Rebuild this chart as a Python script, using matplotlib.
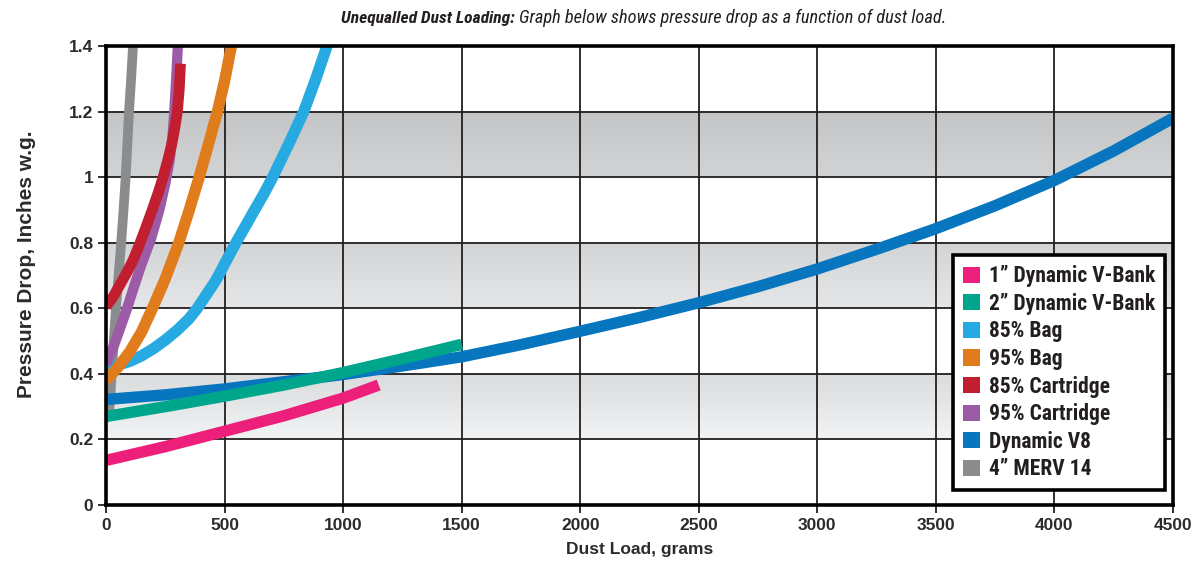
import matplotlib
matplotlib.use("Agg")
import matplotlib.pyplot as plt
import numpy as np
from matplotlib import font_manager
from matplotlib.colors import to_rgb
from matplotlib.patches import Patch

# ---- data (dust load in grams, pressure drop in in. w.g.)
vbank1_x = [0, 250, 500, 750, 1000, 1150]
vbank1_y = [0.136, 0.178, 0.225, 0.272, 0.326, 0.366]

vbank2_x = [0, 250, 500, 750, 1000, 1250, 1500]
vbank2_y = [0.270, 0.300, 0.332, 0.366, 0.404, 0.446, 0.490]

bag85_x = [0, 50, 100, 150, 200, 250, 300, 350, 383, 420, 465, 505, 548, 590,
           625, 665, 703, 770, 834, 885, 932, 950]
bag85_y = [0.420, 0.427, 0.438, 0.455, 0.477, 0.503, 0.533, 0.568, 0.598, 0.638,
           0.687, 0.742, 0.800, 0.853, 0.898, 0.948, 1.000, 1.100, 1.200, 1.300,
           1.400, 1.440]

bag95_x = [0, 50, 100, 150, 196, 250, 307, 350, 393, 432, 470, 500, 529, 540]
bag95_y = [0.380, 0.420, 0.467, 0.528, 0.600, 0.690, 0.800, 0.897, 1.000, 1.100,
           1.200, 1.293, 1.400, 1.440]

cart85_x = [0, 30, 59, 90, 115, 144, 170, 195, 220, 241, 260, 277, 290, 301, 309, 314]
cart85_y = [0.605, 0.635, 0.672, 0.712, 0.748, 0.800, 0.850, 0.900, 0.952, 1.000,
            1.050, 1.100, 1.150, 1.200, 1.270, 1.346]

cart95_x = [0, 30, 60, 89, 120, 150, 189, 225, 250, 268, 280, 288, 296, 303, 306]
cart95_y = [0.430, 0.480, 0.540, 0.600, 0.670, 0.735, 0.810, 0.900, 0.980, 1.050,
            1.120, 1.200, 1.300, 1.400, 1.450]

v8_x = [0, 250, 500, 750, 1000, 1250, 1500, 1750, 2000, 2250, 2500, 2750,
        3000, 3250, 3500, 3750, 4000, 4250, 4500]
v8_y = [0.322, 0.336, 0.354, 0.376, 0.398, 0.424, 0.452, 0.489, 0.530, 0.572,
        0.617, 0.666, 0.720, 0.780, 0.843, 0.913, 0.990, 1.080, 1.180]

merv14_x = [12, 18, 24, 33, 42, 53, 64, 74, 83, 90, 97, 106, 114, 118]
merv14_y = [0.27, 0.33, 0.40, 0.50, 0.60, 0.70, 0.80, 0.90, 1.00, 1.10, 1.20,
            1.30, 1.40, 1.45]

legend_labels = ["1\u201d Dynamic V-Bank", "2\u201d Dynamic V-Bank", "85% Bag", "95% Bag",
                 "85% Cartridge", "95% Cartridge", "Dynamic V8", "4\u201d MERV 14"]
colors = ["#ec1f7a", "#00a68c", "#27aae1", "#e17c1d",
          "#c11f30", "#9c5ba6", "#0776bf", "#8b8c8e"]

x_ticks = [0, 500, 1000, 1500, 2000, 2500, 3000, 3500, 4000, 4500]
y_ticks = [0, 0.2, 0.4, 0.6, 0.8, 1.0, 1.2, 1.4]
y_tick_labels = ["0", "0.2", "0.4", "0.6", "0.8", "1", "1.2", "1.4"]

# shaded bands: (low, high, top colour, bottom colour)
bands = [
    (0.2, 0.4, "#dadbdd", "#f2f3f4"),
    (0.6, 0.8, "#d3d4d6", "#e5e6e8"),
    (1.0, 1.2, "#c4c5c7", "#d2d3d5"),
]


def _weight(entry):
    w = entry.weight
    if isinstance(w, str):
        w = font_manager.weight_dict.get(w, 400)
    return w


def pick_condensed(candidates):
    for name in candidates:
        entries = [f for f in font_manager.fontManager.ttflist if f.name == name]
        has_bold = any(_weight(f) >= 600 and f.style == "normal" for f in entries)
        has_italic = any(f.style == "italic" for f in entries)
        if has_bold and has_italic:
            return name
    return "Liberation Sans"


narrow = [pick_condensed(["Roboto Condensed", "Barlow Semi Condensed",
                          "Fira Sans Condensed", "Barlow Condensed",
                          "Encode Sans Condensed", "Asap Condensed",
                          "Archivo Narrow"]), "DejaVu Sans"]
sans = ["Liberation Sans", "DejaVu Sans"]
ink = "#231f20"

fig = plt.figure(figsize=(11.92, 5.64), dpi=100)
ax = fig.add_axes([106 / 1192, 59 / 564, 1067 / 1192, 459 / 564])

for low, high, top, bottom in bands:
    c_top, c_bot = np.array(to_rgb(top)), np.array(to_rgb(bottom))
    t = np.linspace(0, 1, 64)[:, None]
    grad = c_bot + (c_top - c_bot) * t
    ax.imshow(grad[:, None, :].repeat(2, axis=1), extent=[0, 4500, low, high],
              origin="lower", aspect="auto", zorder=0, interpolation="bilinear")

for xv in x_ticks:
    ax.axvline(xv, color=ink, lw=1.3, zorder=1)
for yv in y_ticks:
    ax.axhline(yv, color=ink, lw=1.3, zorder=1)

lw = 8.2
series = [
    (merv14_x, merv14_y, colors[7], 7.0),
    (v8_x, v8_y, colors[6], lw),
    (vbank2_x, vbank2_y, colors[1], lw),
    (vbank1_x, vbank1_y, colors[0], lw),
    (bag85_x, bag85_y, colors[2], lw),
    (bag95_x, bag95_y, colors[3], lw),
    (cart95_x, cart95_y, colors[5], 7.4),
    (cart85_x, cart85_y, colors[4], 7.8),
]
for i, (xs, ys, c, w) in enumerate(series):
    ax.plot(xs, ys, color=c, lw=w, solid_capstyle="butt",
            solid_joinstyle="round", zorder=3 + i)

ax.set_xlim(0, 4500)
ax.set_ylim(0, 1.4)
ax.set_xticks(x_ticks)
ax.set_xticklabels([str(v) for v in x_ticks])
ax.set_yticks(y_ticks)
ax.set_yticklabels(y_tick_labels)
ax.tick_params(direction="out", length=6, width=1.3, color=ink, pad=3)
for lab in ax.get_xticklabels() + ax.get_yticklabels():
    lab.set_family(sans)
    lab.set_fontsize(12.5)
    lab.set_fontweight("bold")
    lab.set_color("#2b2b2b")
for sp in ax.spines.values():
    sp.set_linewidth(2.6)
    sp.set_color("black")
    sp.set_zorder(20)

ax.set_xlabel("Dust Load, grams", family=sans, fontsize=12.5,
              fontweight="bold", color="#2b2b2b", labelpad=7)
ax.set_ylabel("Pressure Drop, Inches w.g.", family=sans, fontsize=15,
              fontweight="bold", color="#2b2b2b")
ax.yaxis.set_label_coords(-0.066, 0.525)

handles = [Patch(facecolor=c, edgecolor="none") for c in colors]
leg = ax.legend(handles, legend_labels, loc="lower right",
                bbox_to_anchor=(0.9925, 0.0327), borderaxespad=0,
                prop={"family": narrow, "weight": "bold", "size": 15.5},
                handlelength=0.78, handleheight=0.78, handletextpad=0.42,
                labelspacing=0.26, borderpad=0.45, fancybox=False,
                framealpha=1, edgecolor="black")
leg.get_frame().set_linewidth(2.6)
leg.set_zorder(30)
for txt in leg.get_texts():
    txt.set_color("#231f20")

fig.text(515 / 1192, 1 - 18 / 564, "Unequalled Dust Loading:", ha="right",
         va="center", family=narrow, style="italic", weight="bold",
         fontsize=12.6, color="#231f20")
fig.text(519 / 1192, 1 - 18 / 564,
         "Graph below shows pressure drop as a function of dust load.",
         ha="left", va="center", family=narrow, style="italic",
         fontsize=13.2, color="#231f20")

fig.savefig("out.png", dpi=100)
